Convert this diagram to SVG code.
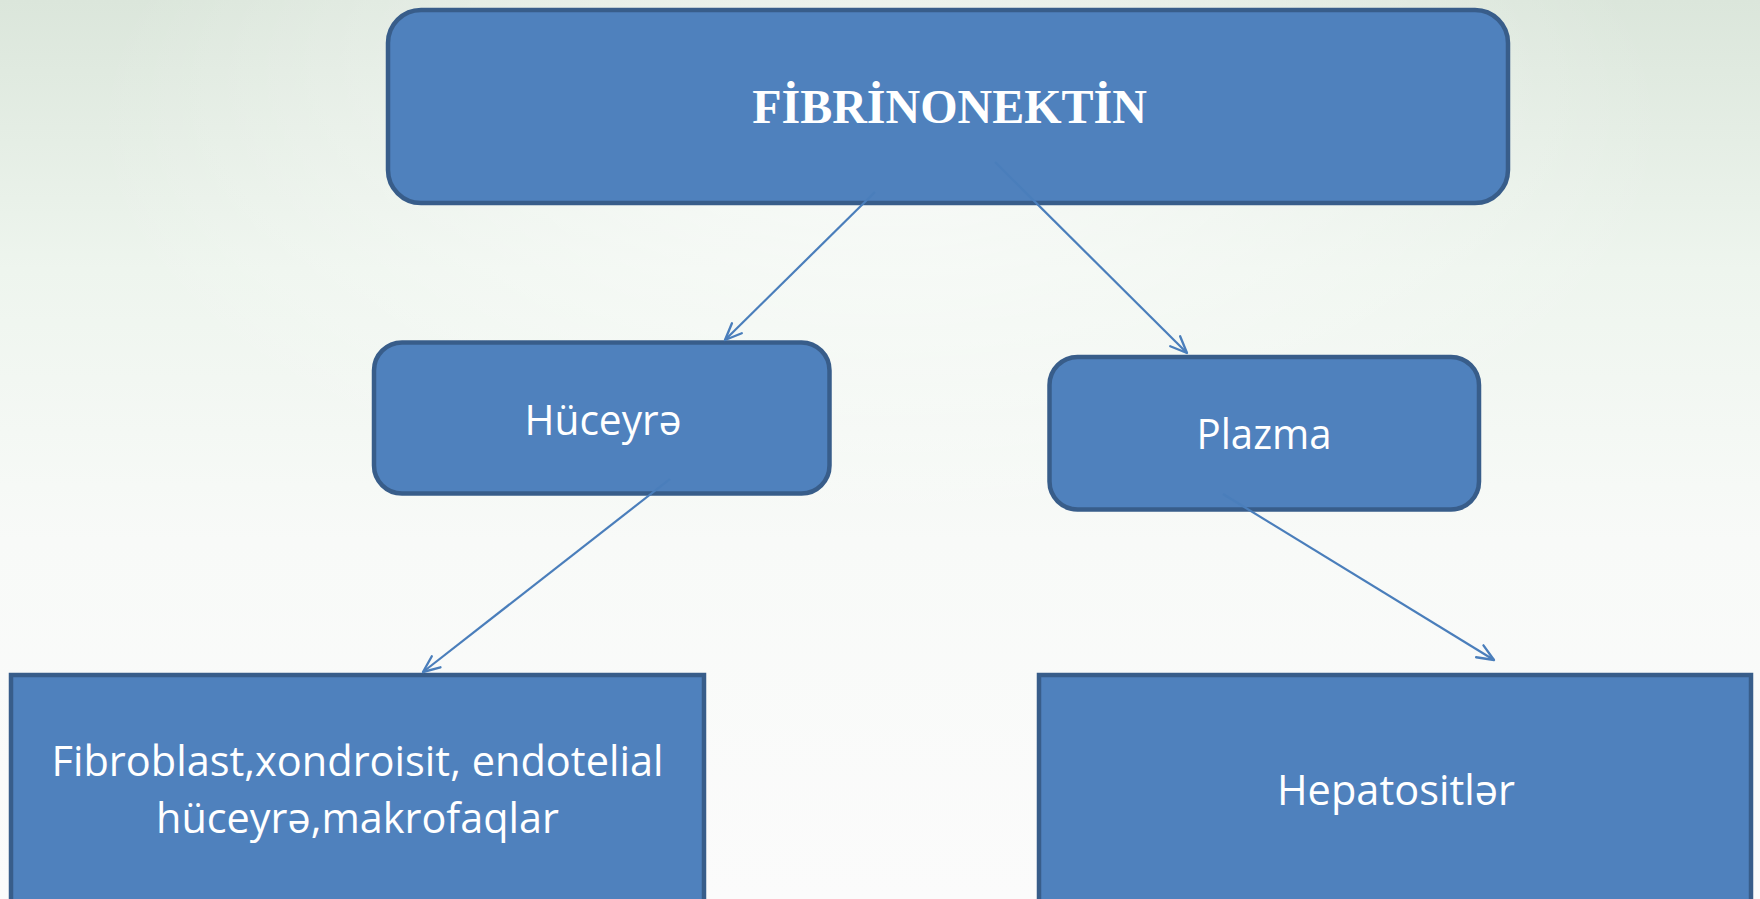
<svg xmlns="http://www.w3.org/2000/svg" width="1760" height="899" viewBox="0 0 1760 899">
  <defs>
    <linearGradient id="bg" x1="0" y1="0" x2="0" y2="1">
      <stop offset="0" stop-color="#dbe6db"/>
      <stop offset="0.3" stop-color="#eef5ee"/>
      <stop offset="0.6" stop-color="#f8faf8"/>
      <stop offset="1" stop-color="#fbfbfb"/>
    </linearGradient>
    <radialGradient id="glow" cx="0.5" cy="0.15" r="0.45">
      <stop offset="0" stop-color="#ffffff" stop-opacity="0.7"/>
      <stop offset="1" stop-color="#ffffff" stop-opacity="0"/>
    </radialGradient>
    <marker id="arrow" viewBox="0 0 12 12" refX="11" refY="6" markerWidth="20" markerHeight="20" markerUnits="userSpaceOnUse" orient="auto">
      <path d="M1,1.8 L11,6 L1,10.2" fill="none" stroke="#4a7ebb" stroke-width="1.4" stroke-linecap="round" stroke-linejoin="round"/>
    </marker>
    <style>
      .box { fill: #4f81bd; stroke: #385d8a; stroke-width: 4.5; }
      .lbl { fill: #ffffff; font-family: "Open Sans", "Noto Sans", "Liberation Sans", sans-serif; font-size: 42px; text-anchor: middle; }
      .title { fill: #ffffff; font-family: "Liberation Serif", "Times New Roman", serif; font-weight: bold; font-size: 48px; text-anchor: middle; }
      .conn { stroke: #4a7ebb; stroke-width: 2.2; fill: none; marker-end: url(#arrow); }
    </style>
  </defs>

  <rect x="0" y="0" width="1760" height="899" fill="url(#bg)"/>
  <rect x="0" y="0" width="1760" height="899" fill="url(#glow)"/>

  <g id="node-fibrinonektin">
    <rect class="box" x="388" y="10" width="1120" height="193" rx="33" ry="33"/>
    <text class="title" x="949.5" y="123">FİBRİNONEKTİN</text>
  </g>

  <g id="node-huceyre">
    <rect class="box" x="374" y="342.5" width="455.5" height="151" rx="28" ry="28"/>
    <text class="lbl" x="603" y="435" textLength="157" lengthAdjust="spacingAndGlyphs">Hüceyrə</text>
  </g>

  <g id="node-plazma">
    <rect class="box" x="1049.5" y="357" width="429.5" height="152.5" rx="28" ry="28"/>
    <text class="lbl" x="1264" y="449" textLength="135" lengthAdjust="spacingAndGlyphs">Plazma</text>
  </g>

  <g id="node-fibroblast">
    <rect class="box" x="11" y="675" width="693" height="240"/>
    <text class="lbl" x="357.5" y="776" textLength="612" lengthAdjust="spacingAndGlyphs">Fibroblast,xondroisit, endotelial</text>
    <text class="lbl" x="357.5" y="833" textLength="403" lengthAdjust="spacingAndGlyphs">hüceyrə,makrofaqlar</text>
  </g>

  <g id="node-hepatositler">
    <rect class="box" x="1039" y="675" width="712" height="240"/>
    <text class="lbl" x="1396" y="805" textLength="238" lengthAdjust="spacingAndGlyphs">Hepatositlər</text>
  </g>

  <g id="connectors">
    <line class="conn" x1="875" y1="192" x2="725" y2="340"/>
    <line class="conn" x1="995" y1="162" x2="1187" y2="353"/>
    <line class="conn" x1="670" y1="479" x2="423" y2="672"/>
    <line class="conn" x1="1223" y1="494" x2="1494" y2="660"/>
  </g>
</svg>
